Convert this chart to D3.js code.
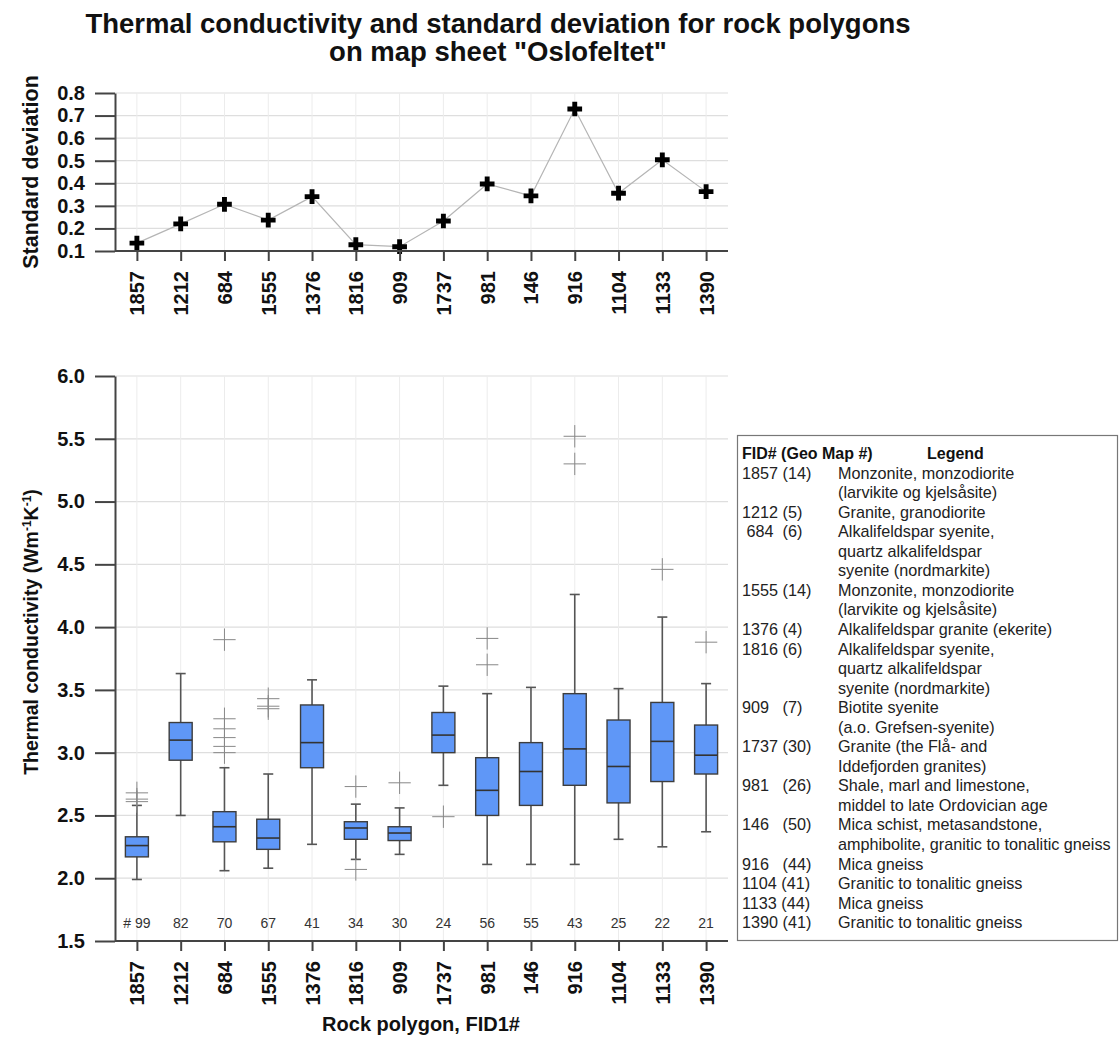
<!DOCTYPE html>
<html>
<head>
<meta charset="utf-8">
<script src="https://cdn.jsdelivr.net/npm/d3@7"></script>
<style>
  body { margin: 0; background: #fff; }
  svg { font-family: "Liberation Sans", Arial, sans-serif; }
</style>
</head>
<body>
<div id="chart"></div>
<script>
// rock polygons, in plotted order
const fids = ["1857", "1212", "684", "1555", "1376", "1816", "909", "1737", "981", "146", "916", "1104", "1133", "1390"];

// standard deviation per polygon (upper panel)
const stdDev = [0.135, 0.22, 0.307, 0.237, 0.341, 0.128, 0.119, 0.233, 0.397, 0.344, 0.729, 0.356, 0.504, 0.363];

// box plot stats (lower panel)
const whiskerLow = [1.99, 2.50, 2.06, 2.08, 2.27, 2.15, 2.19, 2.74, 2.11, 2.11, 2.11, 2.31, 2.25, 2.37];
const q1 =         [2.17, 2.94, 2.29, 2.23, 2.88, 2.31, 2.30, 3.00, 2.50, 2.58, 2.74, 2.60, 2.77, 2.83];
const median =     [2.26, 3.10, 2.41, 2.32, 3.08, 2.40, 2.36, 3.14, 2.70, 2.85, 3.03, 2.89, 3.09, 2.98];
const q3 =         [2.33, 3.24, 2.53, 2.47, 3.38, 2.45, 2.41, 3.32, 2.96, 3.08, 3.47, 3.26, 3.40, 3.22];
const whiskerHigh =[2.58, 3.63, 2.88, 2.83, 3.58, 2.59, 2.56, 3.53, 3.47, 3.52, 4.26, 3.51, 4.08, 3.55];
const outliers = [
  [2.68, 2.63, 2.61],
  [],
  [3.90, 3.27, 3.19, 3.12, 3.05, 3.00],
  [3.43, 3.37, 3.35],
  [],
  [2.73, 2.07],
  [2.76],
  [2.49],
  [3.91, 3.70],
  [],
  [5.52, 5.30],
  [],
  [4.46],
  [3.88]
];
const counts = [99, 82, 70, 67, 41, 34, 30, 24, 56, 55, 43, 25, 22, 21];

const sdTicks = [0.1, 0.2, 0.3, 0.4, 0.5, 0.6, 0.7, 0.8];
const tcTicks = [1.5, 2.0, 2.5, 3.0, 3.5, 4.0, 4.5, 5.0, 5.5, 6.0];

// legend
const legendFid = ["1857 (14)", "1212 (5)", " 684  (6)", "1555 (14)", "1376 (4)", "1816 (6)", "909   (7)", "1737 (30)", "981   (26)", "146   (50)", "916   (44)", "1104 (41)", "1133 (44)", "1390 (41)"];
const legendText = [
  ["Monzonite, monzodiorite", "(larvikite og kjelsåsite)"],
  ["Granite, granodiorite"],
  ["Alkalifeldspar syenite,", "quartz alkalifeldspar", "syenite (nordmarkite)"],
  ["Monzonite, monzodiorite", "(larvikite og kjelsåsite)"],
  ["Alkalifeldspar granite (ekerite)"],
  ["Alkalifeldspar syenite,", "quartz alkalifeldspar", "syenite (nordmarkite)"],
  ["Biotite syenite", "(a.o. Grefsen-syenite)"],
  ["Granite (the Flå- and", "Iddefjorden granites)"],
  ["Shale, marl and limestone,", "middel to late Ordovician age"],
  ["Mica schist, metasandstone,", "amphibolite, granitic to tonalitic gneiss"],
  ["Mica gneiss"],
  ["Granitic to tonalitic gneiss"],
  ["Mica gneiss"],
  ["Granitic to tonalitic gneiss"]
];

const width = 1120, height = 1037;
const left = 115, right = 728;
const boxFill = "#5f97f7";

const svg = d3.select("#chart").append("svg")
  .attr("width", width)
  .attr("height", height)
  .attr("viewBox", `0 0 ${width} ${height}`);

// title
const title = svg.append("text")
  .attr("text-anchor", "middle")
  .style("font-weight", "bold")
  .style("font-size", "27.5px")
  .style("fill", "#111");
title.append("tspan").attr("x", 498).attr("y", 33).text("Thermal conductivity and standard deviation for rock polygons");
title.append("tspan").attr("x", 498).attr("y", 61).text("on map sheet \"Oslofeltet\"");

const x = d3.scalePoint()
  .domain(fids)
  .range([left, right])
  .padding(0.5);

const yAxisStyle = (g) => {
  g.select(".domain").attr("stroke", "#444").attr("stroke-width", 2);
  g.selectAll(".tick line").attr("stroke", "#444").attr("stroke-width", 2);
  g.selectAll(".tick text")
    .style("font-size", "20px")
    .style("font-weight", "bold")
    .style("font-family", "Liberation Sans, Arial, sans-serif")
    .style("fill", "#111");
};

const xAxis = (yPos) => (g) => {
  g.attr("transform", `translate(0,${yPos})`)
    .call(d3.axisBottom(x).tickSize(10).tickPadding(9).tickSizeOuter(0));
  g.select(".domain").attr("stroke", "#444").attr("stroke-width", 2)
    .attr("d", `M${left},0H${right}`);
  g.selectAll(".tick line").attr("stroke", "#444").attr("stroke-width", 2);
  g.selectAll(".tick text")
    .attr("transform", "rotate(-90)")
    .attr("x", -20)
    .attr("y", 0)
    .attr("dy", "0.35em")
    .style("text-anchor", "end")
    .style("font-size", "20px")
    .style("font-weight", "bold")
    .style("font-family", "Liberation Sans, Arial, sans-serif")
    .style("fill", "#111");
};

const grid = (yScale, ticks) => {
  const g = svg.append("g");
  g.selectAll("line.h")
    .data(ticks)
    .enter().append("line")
      .attr("x1", left).attr("x2", right)
      .attr("y1", (d) => yScale(d)).attr("y2", (d) => yScale(d))
      .attr("stroke", "#dedede").attr("stroke-width", 1.2);
  g.selectAll("line.v")
    .data(fids)
    .enter().append("line")
      .attr("x1", (d) => x(d)).attr("x2", (d) => x(d))
      .attr("y1", yScale.range()[0]).attr("y2", yScale.range()[1])
      .attr("stroke", "#ececec").attr("stroke-width", 1);
};

/* ---------- upper panel: standard deviation ---------- */
const ySd = d3.scaleLinear()
  .domain([0.1, 0.8])
  .range([251, 93]);

grid(ySd, sdTicks);

svg.append("path")
  .attr("fill", "none")
  .attr("stroke", "#b5b5b5")
  .attr("stroke-width", 1.2)
  .attr("d", d3.line()
    .x((d, i) => x(fids[i]))
    .y((d) => ySd(d))(stdDev));

svg.append("g")
  .selectAll("path")
  .data(stdDev)
  .enter().append("path")
    .attr("transform", (d, i) => `translate(${x(fids[i])},${ySd(d)})`)
    .attr("d", d3.symbol(d3.symbolCross, 120))
    .attr("fill", "#000");

svg.append("g")
  .attr("transform", `translate(${left},0)`)
  .call(d3.axisLeft(ySd).tickValues(sdTicks).tickFormat(d3.format(".1f")).tickSize(20).tickPadding(10).tickSizeOuter(0))
  .call(yAxisStyle);

svg.append("g").call(xAxis(251));

svg.append("text")
  .attr("transform", "translate(38,172) rotate(-90)")
  .attr("text-anchor", "middle")
  .style("font-weight", "bold")
  .style("font-size", "21.5px")
  .style("fill", "#111")
  .text("Standard deviation");

/* ---------- lower panel: thermal conductivity ---------- */
const yTc = d3.scaleLinear()
  .domain([1.5, 6.0])
  .range([941, 376]);

grid(yTc, tcTicks.slice(1));

const boxW = 23, capW = 10;
const boxes = svg.append("g")
  .selectAll("g")
  .data(fids)
  .enter().append("g")
    .attr("transform", (d) => `translate(${x(d)},0)`);

// whisker stem + caps
boxes.append("line")
  .attr("y1", (d, i) => yTc(whiskerLow[i]))
  .attr("y2", (d, i) => yTc(whiskerHigh[i]))
  .attr("stroke", "#555").attr("stroke-width", 1.6);
boxes.append("line")
  .attr("x1", -capW / 2).attr("x2", capW / 2)
  .attr("y1", (d, i) => yTc(whiskerLow[i])).attr("y2", (d, i) => yTc(whiskerLow[i]))
  .attr("stroke", "#555").attr("stroke-width", 1.6);
boxes.append("line")
  .attr("x1", -capW / 2).attr("x2", capW / 2)
  .attr("y1", (d, i) => yTc(whiskerHigh[i])).attr("y2", (d, i) => yTc(whiskerHigh[i]))
  .attr("stroke", "#555").attr("stroke-width", 1.6);

// box
boxes.append("rect")
  .attr("x", -boxW / 2)
  .attr("width", boxW)
  .attr("y", (d, i) => yTc(q3[i]))
  .attr("height", (d, i) => yTc(q1[i]) - yTc(q3[i]))
  .attr("fill", boxFill)
  .attr("stroke", "#3d3d3d").attr("stroke-width", 1.4);

// median
boxes.append("line")
  .attr("x1", -boxW / 2).attr("x2", boxW / 2)
  .attr("y1", (d, i) => yTc(median[i])).attr("y2", (d, i) => yTc(median[i]))
  .attr("stroke", "#333").attr("stroke-width", 1.6);

// outliers
boxes.selectAll("path.out")
  .data((d, i) => outliers[i])
  .enter().append("path")
    .attr("transform", (v) => `translate(0,${yTc(v)})`)
    .attr("d", d3.symbol(d3.symbolPlus, 165))
    .attr("fill", "none")
    .attr("stroke", "#888").attr("stroke-width", 1);

// sample counts
boxes.append("text")
  .attr("y", 928)
  .attr("text-anchor", "middle")
  .style("font-size", "14px")
  .style("fill", "#333")
  .text((d, i) => (i === 0 ? "# " : "") + counts[i]);

svg.append("g")
  .attr("transform", `translate(${left},0)`)
  .call(d3.axisLeft(yTc).tickValues(tcTicks).tickFormat(d3.format(".1f")).tickSize(20).tickPadding(10).tickSizeOuter(0))
  .call(yAxisStyle);

svg.append("g").call(xAxis(941));

const yLab = svg.append("text")
  .attr("transform", "translate(38,632) rotate(-90)")
  .attr("text-anchor", "middle")
  .style("font-weight", "bold")
  .style("font-size", "19.5px")
  .style("fill", "#111");
yLab.append("tspan").text("Thermal conductivity (Wm");
yLab.append("tspan").attr("dy", -7).style("font-size", "12px").text("-1");
yLab.append("tspan").attr("dy", 7).text("K");
yLab.append("tspan").attr("dy", -7).style("font-size", "12px").text("-1");
yLab.append("tspan").attr("dy", 7).text(")");

svg.append("text")
  .attr("x", 421)
  .attr("y", 1031)
  .attr("text-anchor", "middle")
  .style("font-weight", "bold")
  .style("font-size", "20px")
  .style("fill", "#111")
  .text("Rock polygon, FID1#");

/* ---------- legend box ---------- */
const legend = svg.append("g");
legend.append("rect")
  .attr("x", 737.5).attr("y", 435.5)
  .attr("width", 380).attr("height", 505)
  .attr("fill", "#fff")
  .attr("stroke", "#777").attr("stroke-width", 1.2);

const lineH = 19.55, firstY = 459, colFid = 742, colText = 838;
legend.append("text")
  .attr("x", colFid).attr("y", firstY)
  .style("font-weight", "bold").style("font-size", "16px").style("fill", "#111")
  .text("FID# (Geo Map #)");
legend.append("text")
  .attr("x", 927).attr("y", firstY)
  .style("font-weight", "bold").style("font-size", "16px").style("fill", "#111")
  .text("Legend");

let row = 1;
legendFid.forEach((fid, i) => {
  legend.append("text")
    .attr("x", colFid).attr("y", firstY + row * lineH)
    .attr("xml:space", "preserve")
    .style("white-space", "pre")
    .style("font-size", "16.2px").style("fill", "#222")
    .text(fid);
  legendText[i].forEach((t, j) => {
    legend.append("text")
      .attr("x", colText).attr("y", firstY + (row + j) * lineH)
      .style("font-size", "16.2px").style("fill", "#222")
      .text(t);
  });
  row += legendText[i].length;
});
</script>
</body>
</html>
